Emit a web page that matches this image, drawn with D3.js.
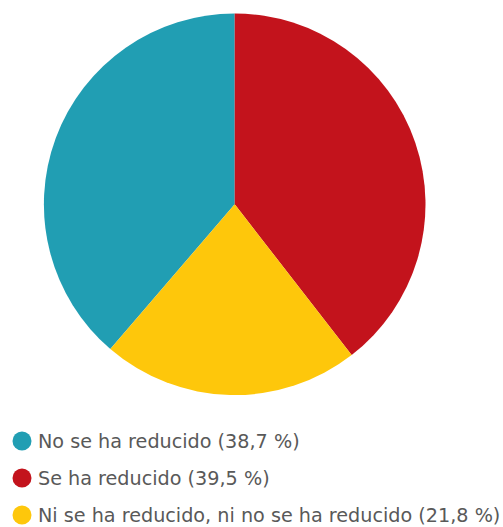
<!DOCTYPE html>
<html>
<head>
<meta charset="utf-8">
<script src="https://cdn.jsdelivr.net/npm/d3@7"></script>
<style>
  body { margin: 0; background: #fff; }
  svg { display: block; }
</style>
</head>
<body>
<div id="chart"></div>
<script>
// Données (ordre de la légende)
const categories = ["No se ha reducido", "Se ha reducido", "Ni se ha reducido, ni no se ha reducido"];
const values = [38.7, 39.5, 21.8];
const colors = ["#219eb3", "#c3131c", "#fec70b"];

const width = 503, height = 527;
const cx = 234.7, cy = 204.3, radius = 190.8;

const svg = d3.select("#chart")
    .append("svg")
    .attr("width", width)
    .attr("height", height);

const data = categories.map((c, i) => ({ label: c, value: values[i], color: colors[i] }));

// Le premier secteur se termine à midi
const start = -2 * Math.PI * values[0] / d3.sum(values);
const pie = d3.pie()
    .sort(null)
    .value(d => d.value)
    .startAngle(start)
    .endAngle(start + 2 * Math.PI);

const arc = d3.arc().innerRadius(0).outerRadius(radius);

svg.append("g")
    .attr("transform", `translate(${cx}, ${cy})`)
    .selectAll("path")
    .data(pie(data))
    .enter()
    .append("path")
    .attr("d", arc)
    .attr("fill", d => d.data.color);

// Légende
const fmt = v => d3.format(".1f")(v).replace(".", ",");
const legend = svg.append("g")
    .selectAll("g")
    .data(data)
    .enter()
    .append("g")
    .attr("transform", (d, i) => `translate(0, ${448 + i * 37})`);

legend.append("circle")
    .attr("cx", 22)
    .attr("cy", -7)
    .attr("r", 9.5)
    .attr("fill", d => d.color);

legend.append("text")
    .attr("x", 38)
    .attr("y", 0)
    .attr("fill", "#595959")
    .style("font-family", "'DejaVu Sans', sans-serif")
    .style("font-size", "19.2px")
    .text(d => `${d.label} (${fmt(d.value)} %)`);
</script>
</body>
</html>
